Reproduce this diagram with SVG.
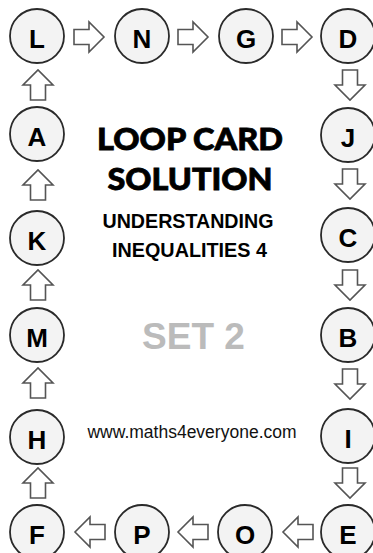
<svg xmlns="http://www.w3.org/2000/svg" width="373" height="553" viewBox="0 0 373 553">
<style>
.n circle{fill:#f3f3f3;stroke:#2a2a2a;stroke-width:1.8}
.n text{font-family:"Liberation Sans",Arial,sans-serif;font-weight:bold;font-size:26px;text-anchor:middle;fill:#000}
.a{fill:#fff;stroke:#555;stroke-width:1.6;stroke-linejoin:miter}
.t{font-family:Lato,"Open Sans",sans-serif;font-weight:900;font-size:31px;text-anchor:middle;fill:#000;stroke:#000;stroke-width:0.8}
.s{font-family:"Liberation Sans",Arial,sans-serif;font-weight:bold;text-anchor:middle}
</style>
<defs>
<path id="ar" d="M0,-7.5 H15 V-15 L30,0 L15,15 V7.5 H0 Z"/>
</defs>
<rect width="373" height="553" fill="#fff"/>
<g id="connectors">
<use href="#ar" class="a" transform="translate(74,37)"/>
<use href="#ar" class="a" transform="translate(178,37)"/>
<use href="#ar" class="a" transform="translate(282,37)"/>
<use href="#ar" class="a" transform="translate(350,70) rotate(90)"/>
<use href="#ar" class="a" transform="translate(350,169) rotate(90)"/>
<use href="#ar" class="a" transform="translate(350,270) rotate(90)"/>
<use href="#ar" class="a" transform="translate(350,369) rotate(90)"/>
<use href="#ar" class="a" transform="translate(350,468) rotate(90)"/>
<use href="#ar" class="a" transform="translate(313,532) rotate(180)"/>
<use href="#ar" class="a" transform="translate(208,532) rotate(180)"/>
<use href="#ar" class="a" transform="translate(105,532) rotate(180)"/>
<use href="#ar" class="a" transform="translate(38,498) rotate(-90)"/>
<use href="#ar" class="a" transform="translate(38,398) rotate(-90)"/>
<use href="#ar" class="a" transform="translate(38,300) rotate(-90)"/>
<use href="#ar" class="a" transform="translate(38,200) rotate(-90)"/>
<use href="#ar" class="a" transform="translate(38,100) rotate(-90)"/>
</g>
<g id="L" class="n"><circle cx="37" cy="36" r="27"/><text x="37" y="47.5">L</text></g>
<g id="N" class="n"><circle cx="142" cy="36" r="27"/><text x="142" y="47.5">N</text></g>
<g id="G" class="n"><circle cx="246" cy="36" r="27"/><text x="246" y="47.5">G</text></g>
<g id="D" class="n"><circle cx="348" cy="36" r="27"/><text x="348" y="47.5">D</text></g>
<g id="J" class="n"><circle cx="348" cy="135" r="27"/><text x="348" y="146.5">J</text></g>
<g id="C" class="n"><circle cx="348" cy="235" r="27"/><text x="348" y="246.5">C</text></g>
<g id="B" class="n"><circle cx="348" cy="335" r="27"/><text x="348" y="346.5">B</text></g>
<g id="I" class="n"><circle cx="348" cy="436" r="27"/><text x="348" y="447.5">I</text></g>
<g id="E" class="n"><circle cx="348" cy="532" r="27"/><text x="348" y="543.5">E</text></g>
<g id="O" class="n"><circle cx="245" cy="532" r="27"/><text x="245" y="543.5">O</text></g>
<g id="P" class="n"><circle cx="142" cy="532" r="27"/><text x="142" y="543.5">P</text></g>
<g id="F" class="n"><circle cx="37" cy="532" r="27"/><text x="37" y="543.5">F</text></g>
<g id="H" class="n"><circle cx="37" cy="437" r="27"/><text x="37" y="448.5">H</text></g>
<g id="M" class="n"><circle cx="37" cy="335" r="27"/><text x="37" y="346.5">M</text></g>
<g id="K" class="n"><circle cx="37" cy="238" r="27"/><text x="37" y="249.5">K</text></g>
<g id="A" class="n"><circle cx="37" cy="134" r="27"/><text x="37" y="145.5">A</text></g>
<g id="title">
<text class="t" x="190" y="150" textLength="186" lengthAdjust="spacingAndGlyphs">LOOP CARD</text>
<text class="t" x="190" y="190" textLength="165" lengthAdjust="spacingAndGlyphs">SOLUTION</text>
<text class="s" x="188" y="228" font-size="19.5" textLength="171" lengthAdjust="spacingAndGlyphs">UNDERSTANDING</text>
<text class="s" x="189.5" y="257" font-size="19.5" textLength="155" lengthAdjust="spacingAndGlyphs">INEQUALITIES 4</text>
<text class="s" x="193.5" y="349" font-size="37" fill="#bbb">SET 2</text>
<text x="192" y="438" font-family="Liberation Sans,Arial,sans-serif" font-size="17.5" text-anchor="middle" fill="#111">www.maths4everyone.com</text>
</g>
</svg>
